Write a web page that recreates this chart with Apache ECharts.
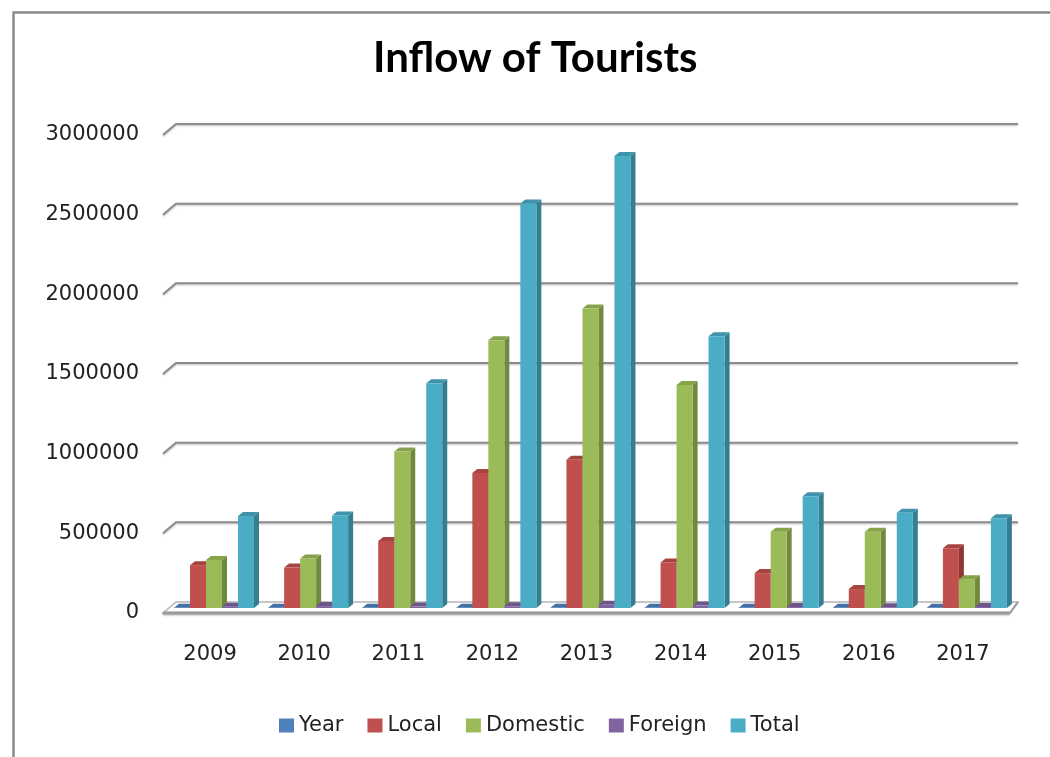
<!DOCTYPE html>
<html>
<head>
<meta charset="utf-8">
<script src="https://cdn.jsdelivr.net/npm/echarts@6/dist/echarts.min.js"></script>
<style>
html,body{margin:0;padding:0;background:#fff;}
#chart{width:1050px;height:757px;}
</style>
</head>
<body>
<div id="chart"></div>
<script>
const categories = ['2009','2010','2011','2012','2013','2014','2015','2016','2017'];
const seriesNames = ['Year','Local','Domestic','Foreign','Total'];
const yearVals = [2009,2010,2011,2012,2013,2014,2015,2016,2017];
const localVals = [269000,254000,421000,848000,931000,286000,219000,119000,375000];
const domesticVals = [302000,311000,983000,1681000,1879000,1400000,479000,479000,181000];
const foreignVals = [8000,12000,9000,11000,20000,15000,6000,5000,7000];
const totalVals = [577000,581000,1411000,2539000,2837000,1706000,702000,598000,563000];
const yTicks = [0,500000,1000000,1500000,2000000,2500000,3000000];

const palette = [
  {front:'#4F81BD', side:'#385D8A', top:'#4570A5'},
  {front:'#C0504D', side:'#8C3836', top:'#A54441'},
  {front:'#9BBB59', side:'#71893F', top:'#86A24B'},
  {front:'#8064A2', side:'#5C4776', top:'#6E568B'},
  {front:'#4BACC6', side:'#357D91', top:'#3F93AA'}
];
const allVals = [yearVals, localVals, domesticVals, foreignVals, totalVals];
const FONT = 'DejaVu Sans';

function barRenderer(si){
  const c = palette[si];
  return function(params, api){
    const idx = api.value(0), v = api.value(1);
    const base = api.coord([idx, 0]);
    const top = api.coord([idx, v]);
    const band = api.size([1, 0])[0];
    const w = band * 0.17;
    const left = base[0] - band * 0.383 + si * w;
    const R = left + w;
    const lift = 5, dx = 5, dz = 4;
    const y0 = base[1] - lift, y1 = top[1] - lift;
    return {type:'group', children:[
      {type:'polygon', shape:{points:[[R,y1],[R+dx,y1-dz],[R+dx,y0-dz],[R,y0]]}, style:{fill:c.side}},
      {type:'polygon', shape:{points:[[left,y1],[left+dx,y1-dz],[R+dx,y1-dz],[R,y1]]}, style:{fill:c.top}},
      {type:'rect', shape:{x:left, y:y1, width:w, height:Math.max(0, y0-y1)}, style:{fill:c.front}}
    ]};
  };
}

function gridRenderer(params, api){
  const v = api.value(1);
  const p = api.coord([0, v]);
  const cs = params.coordSys;
  const L = cs.x, Rt = cs.x + cs.width;
  const y = p[1];
  const children = [];
  if (v === 0) {
    children.push({type:'polygon', shape:{points:[[L,y],[L+13,y-11],[Rt+8,y-11],[Rt,y]]},
      style:{fill:'#ffffff', stroke:'#b4b4b4', lineWidth:1.5}});
    children.push({type:'line', shape:{x1:L, y1:y, x2:Rt, y2:y},
      style:{stroke:'#9a9a9a', lineWidth:3, shadowBlur:2, shadowColor:'rgba(0,0,0,0.25)', shadowOffsetY:1}});
    children.push({type:'line', shape:{x1:Rt, y1:y, x2:Rt+8, y2:y-11},
      style:{stroke:'#9a9a9a', lineWidth:2}});
  } else {
    children.push({type:'polyline', shape:{points:[[L,y],[L+13,y-11],[Rt+8,y-11]]},
      style:{stroke:'#8c8c8c', lineWidth:2, fill:null, shadowBlur:2, shadowColor:'rgba(0,0,0,0.25)', shadowOffsetY:1}});
  }
  return {type:'group', children};
}

const series = [{
  type:'custom', name:'_grid', silent:true, renderItem:gridRenderer,
  data: yTicks.map(t => [0, t]), z:1
}];
seriesNames.forEach((n, si) => {
  series.push({
    type:'custom', name:n, renderItem:barRenderer(si),
    itemStyle:{color:palette[si].front},
    data: allVals[si].map((v, i) => [i, v]), z:2
  });
});

const chart = echarts.init(document.getElementById('chart'), null, {renderer:'canvas'});
chart.setOption({
  animation:false,
  backgroundColor:'#ffffff',
  title:{
    text:'Inflow of Tourists', left:368, top:32,
    textStyle:{fontFamily:'Lato', fontWeight:'bold', fontSize:42, color:'#000'}
  },
  legend:{
    data:seriesNames, left:274, top:710, icon:'rect',
    itemWidth:15, itemHeight:14, itemGap:24,
    textStyle:{fontFamily:FONT, fontSize:21, color:'#222'}
  },
  grid:{left:163, right:40, top:135, bottom:144},
  xAxis:{
    type:'category', data:categories,
    axisLine:{show:false}, axisTick:{show:false},
    axisLabel:{margin:31, fontFamily:FONT, fontSize:21, color:'#222'}
  },
  yAxis:{
    type:'value', min:0, max:3000000, interval:500000,
    axisLine:{show:false}, axisTick:{show:false}, splitLine:{show:false},
    axisLabel:{margin:24, fontFamily:FONT, fontSize:21, color:'#222', formatter: v => String(v)}
  },
  graphic:[{
    type:'rect', left:11, top:10, silent:true, z:-1,
    shape:{width:1100, height:800},
    style:{fill:null, stroke:'#8a8a8a', lineWidth:2.5}
  }],
  series
});
</script>
</body>
</html>
